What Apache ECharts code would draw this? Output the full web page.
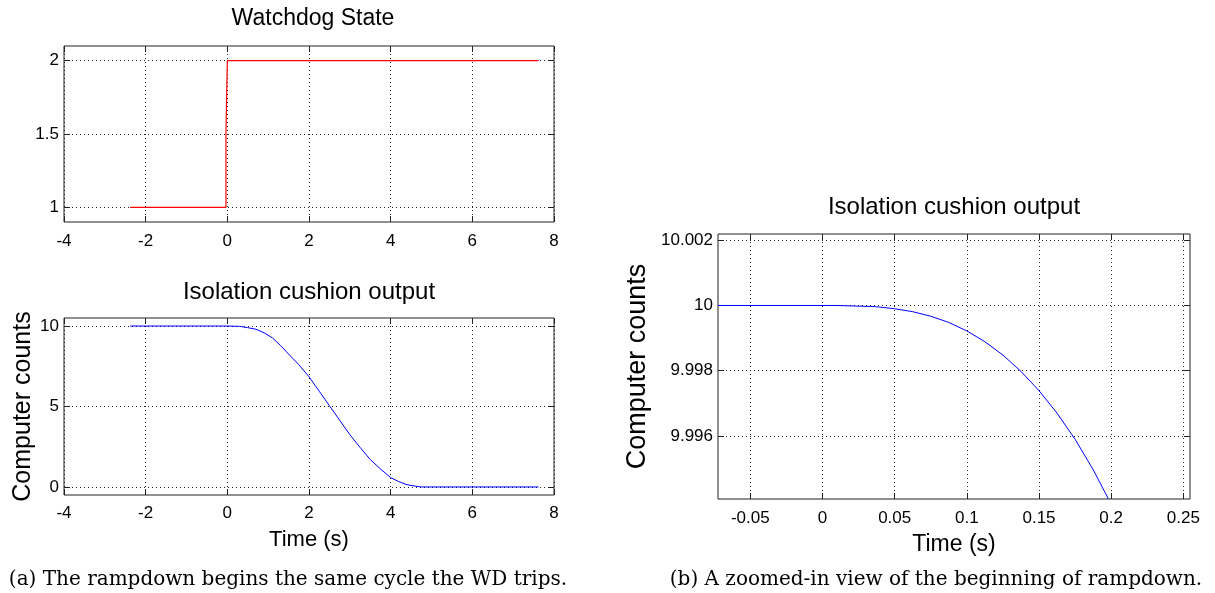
<!DOCTYPE html>
<html>
<head>
<meta charset="utf-8">
<title>Watchdog rampdown</title>
<script src="https://cdn.jsdelivr.net/npm/echarts@6/dist/echarts.min.js"></script>
<style>
  html,body{margin:0;padding:0;background:#fff;}
  #chart{width:1215px;height:593px;}
</style>
</head>
<body>
<div id="chart"></div>
<script>
// 看门狗状态（阶跃信号）
const wdTime = [-2.38, -0.034, -0.034, 0, 0, 7.62]
const wdState = [1, 1, 1.5, 1.5, 2, 2]

// 隔离垫输出（整段）
const cushionTime = [-2.38, 0, 0.3, 0.5, 0.7, 0.9, 1.1, 1.3, 1.5, 1.75, 2, 2.25, 2.5, 2.75, 3, 3.25, 3.5, 3.75, 4, 4.2, 4.4, 4.6, 4.75, 7.62]
const cushionCounts = [10, 10, 9.98, 9.9, 9.8, 9.58, 9.27, 8.8, 8.26, 7.6, 6.85, 5.95, 5.05, 4.15, 3.25, 2.46, 1.7, 1.12, 0.58, 0.33, 0.14, 0.05, 0, 0]

// 隔离垫输出（放大的起始段）
const zoomTime = [-0.0724, 0.0084, 0.0085, 0.033, 0.0375, 0.05, 0.0625, 0.075, 0.0875, 0.1, 0.1125, 0.125, 0.1375, 0.15, 0.1625, 0.175, 0.1875, 0.1981]
const zoomCounts = [10, 10, 9.99997, 9.99997, 9.99996, 9.9999, 9.99981, 9.99967, 9.99948, 9.99922, 9.99889, 9.99848, 9.99798, 9.99739, 9.9967, 9.9959, 9.99497, 9.99407]

// 刻度
const timeTicks = [-4, -2, 0, 2, 4, 6, 8]
const stateTicks = [1, 1.5, 2]
const countTicks = [0, 5, 10]
const zoomTimeTicks = [-0.05, 0, 0.05, 0.1, 0.15, 0.2, 0.25]
const zoomCountTicks = [9.996, 9.998, 10, 10.002]

const sans = 'Liberation Sans'
const serif = 'DejaVu Serif'
const ink = '#222'

const pairs = (xs, ys) => xs.map((x, i) => [x, ys[i]])
const fmt = v => String(parseFloat((+v).toPrecision(8)))

// 主坐标轴（带标签和网格线）
function mainAxis(gridIndex, min, max, ticks, position, margin, name, nameGap, nameSize) {
  return {
    type: 'value', gridIndex, min, max, position,
    axisLine: {show: false, onZero: false},
    axisTick: {show: true, inside: true, length: 6, customValues: ticks, lineStyle: {color: ink, width: 1}},
    axisLabel: {customValues: ticks, margin, formatter: fmt, fontFamily: sans, fontSize: 17, color: '#000'},
    splitLine: {show: true, lineStyle: {color: ink, width: 1, type: [1, 3]}},
    name: name || '',
    nameLocation: 'middle',
    nameGap: nameGap || 0,
    nameRotate: (position === 'left') ? 90 : 0,
    nameTextStyle: {fontFamily: sans, fontSize: nameSize || 22, color: '#000'}
  }
}

// 对侧坐标轴，只画向内的刻度
function mirrorAxis(gridIndex, min, max, ticks, position) {
  return {
    type: 'value', gridIndex, min, max, position,
    axisLine: {show: false, onZero: false},
    axisTick: {show: true, inside: true, length: 6, customValues: ticks, lineStyle: {color: ink, width: 1}},
    axisLabel: {show: false},
    splitLine: {show: false}
  }
}

const chart = echarts.init(document.getElementById('chart'), null, {renderer: 'canvas'})

const gridBase = {show: true, borderColor: ink, borderWidth: 1, backgroundColor: '#fff', containLabel: false, outerBoundsMode: 'none'}

chart.setOption({
  animation: false,
  backgroundColor: '#fff',
  grid: [
    {...gridBase, left: 64, top: 46, width: 490, height: 176},
    {...gridBase, left: 64, top: 318, width: 490, height: 177},
    {...gridBase, left: 718, top: 234, width: 472, height: 265}
  ],
  xAxis: [
    mainAxis(0, -4, 8, timeTicks, 'bottom', 11),
    mirrorAxis(0, -4, 8, timeTicks, 'top'),
    mainAxis(1, -4, 8, timeTicks, 'bottom', 10, 'Time (s)', 34, 22),
    mirrorAxis(1, -4, 8, timeTicks, 'top'),
    mainAxis(2, -0.0724, 0.2546, zoomTimeTicks, 'bottom', 11, 'Time (s)', 34, 23),
    mirrorAxis(2, -0.0724, 0.2546, zoomTimeTicks, 'top')
  ],
  yAxis: [
    mainAxis(0, 0.9, 2.1, stateTicks, 'left', 5),
    mirrorAxis(0, 0.9, 2.1, stateTicks, 'right'),
    mainAxis(1, -0.5, 10.5, countTicks, 'left', 5, 'Computer counts', 28, 25),
    mirrorAxis(1, -0.5, 10.5, countTicks, 'right'),
    mainAxis(2, 9.99407, 10.00219, zoomCountTicks, 'left', 5, 'Computer counts', 67, 27),
    mirrorAxis(2, 9.99407, 10.00219, zoomCountTicks, 'right')
  ],
  series: [
    {
      type: 'line', xAxisIndex: 0, yAxisIndex: 0,
      data: pairs(wdTime, wdState),
      symbol: 'none', lineStyle: {color: '#ff0000', width: 1.2}
    },
    {
      type: 'line', xAxisIndex: 2, yAxisIndex: 2,
      data: pairs(cushionTime, cushionCounts),
      symbol: 'none', lineStyle: {color: '#0000ff', width: 1}
    },
    {
      type: 'line', xAxisIndex: 4, yAxisIndex: 4,
      data: pairs(zoomTime, zoomCounts),
      symbol: 'none', lineStyle: {color: '#0000ff', width: 1}
    }
  ],
  // 标题和图注
  graphic: [
    {type: 'text', x: 313, y: 19, style: {text: 'Watchdog State', font: `23px "${sans}"`, fill: '#000', align: 'center', verticalAlign: 'middle'}},
    {type: 'text', x: 309, y: 292, style: {text: 'Isolation cushion output', font: `24px "${sans}"`, fill: '#000', align: 'center', verticalAlign: 'middle'}},
    {type: 'text', x: 954, y: 207, style: {text: 'Isolation cushion output', font: `24px "${sans}"`, fill: '#000', align: 'center', verticalAlign: 'middle'}},
    {type: 'text', x: 288, y: 580, style: {text: '(a) The rampdown begins the same cycle the WD trips.', font: `20px "${serif}"`, fill: '#000', align: 'center', verticalAlign: 'middle'}},
    {type: 'text', x: 936, y: 580, style: {text: '(b) A zoomed-in view of the beginning of rampdown.', font: `20px "${serif}"`, fill: '#000', align: 'center', verticalAlign: 'middle'}}
  ]
})
</script>
</body>
</html>
